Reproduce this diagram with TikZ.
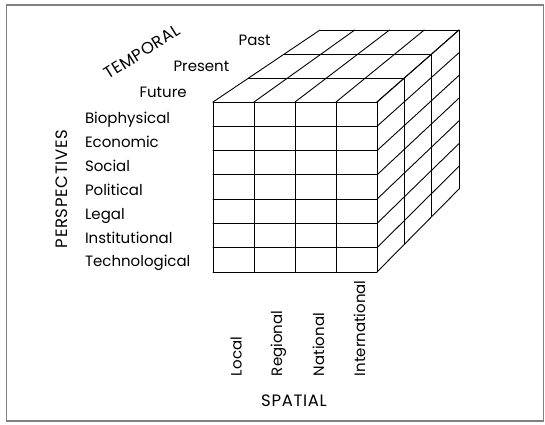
\documentclass[tikz,border=0pt]{standalone}
\usepackage{fontspec}
\setmainfont{Poppins}
\newfontfamily\capsfont[LetterSpace=4]{Poppins}
\usetikzlibrary{positioning}
\definecolor{FrameColor}{gray}{0.5}
\newcommand{\fl}{213}
\newcommand{\fr}{377}
\newcommand{\ft}{102}
\newcommand{\fb}{272}
\newcommand{\bl}{320}
\newcommand{\br}{459}
\newcommand{\bt}{30}
\newcommand{\bb}{189}
\newcommand{\lblsize}{\fontsize{15}{18}\selectfont}
\newcommand{\capsize}{\fontsize{16.5}{19}\selectfont}
\tikzset{
    cubeline/.style={black,line width=0.9pt,line cap=round,line join=round},
    lbl/.style={inner sep=0pt,outer sep=0pt,font=\lblsize},
    caplbl/.style={inner sep=0pt,outer sep=0pt,font=\capsize\capsfont},
    rowlbl/.style={lbl,anchor=base west},
    timelbl/.style={lbl,anchor=base east},
    spacelbl/.style={lbl,anchor=base west,rotate=90},
}

\begin{document}
\begin{tikzpicture}[x=1pt,y=-1pt]
    \useasboundingbox (0,0) rectangle (545,424);    % Freeze the bounding box
    \draw[FrameColor,line width=1.4pt] (6.5,5) rectangle (543.5,421);
    % --- --- --- Front grid
    \foreach \i in {0,...,4}{
        \pgfmathsetmacro{\cx}{\fl+\i*(\fr-\fl)/4}
        \draw[cubeline] (\cx,\ft) -- (\cx,\fb);
        \draw[cubeline] (\cx,\ft) -- ({\bl+(\cx-\fl)/(\fr-\fl)*(\br-\bl)},\bt);
    }
    \foreach \j in {0,...,7}{
        \pgfmathsetmacro{\ry}{\ft+\j*(\fb-\ft)/7}
        \draw[cubeline] (\fl,\ry) -- (\fr,\ry);
        \draw[cubeline] (\fr,\ry) -- (\br,{\bt+(\ry-\ft)/(\fb-\ft)*(\bb-\bt)});
    }
    % --- --- --- Layers (future, present, past)
    \foreach \k in {1,2,3}{
        \pgfmathsetmacro{\lx}{\fl+\k/3*(\bl-\fl)}
        \pgfmathsetmacro{\rx}{\fr+\k/3*(\br-\fr)}
        \pgfmathsetmacro{\ty}{\ft+\k/3*(\bt-\ft)}
        \pgfmathsetmacro{\by}{\fb+\k/3*(\bb-\fb)}
        \draw[cubeline] (\lx,\ty) -- (\rx,\ty) -- (\rx,\by);
    }
    % === === === Labels
    \foreach \lab [count=\n] in {Biophysical,Economic,Social,Political,Legal,Institutional,Technological}
        \node[rowlbl] (persp\n) at (85,{123.5+(\n-1)*23.9}) {\lab};
    \node[caplbl,rotate=90] (PERSP) at (62,189) {PERSPECTIVES};
    %
    \node[timelbl] (future) at (186.7,97.3) {Future};
    \node[timelbl] (present) at (229.3,71.7) {Present};
    \node[timelbl] (past) at (270.7,45.7) {Past};
    \node[caplbl,rotate=32] (TEMP) at (142,52) {TEMPORAL};
    %
    \node[spacelbl] (local) at (241.5,376) {Local};
    \node[spacelbl] (regional) at (282,376) {Regional};
    \node[spacelbl] (national) at (324,376) {National};
    \node[spacelbl] (intl) at (365,376) {International};
    \node[caplbl,anchor=base] (SPAT) at (294,406) {SPATIAL};
\end{tikzpicture}
\end{document}
